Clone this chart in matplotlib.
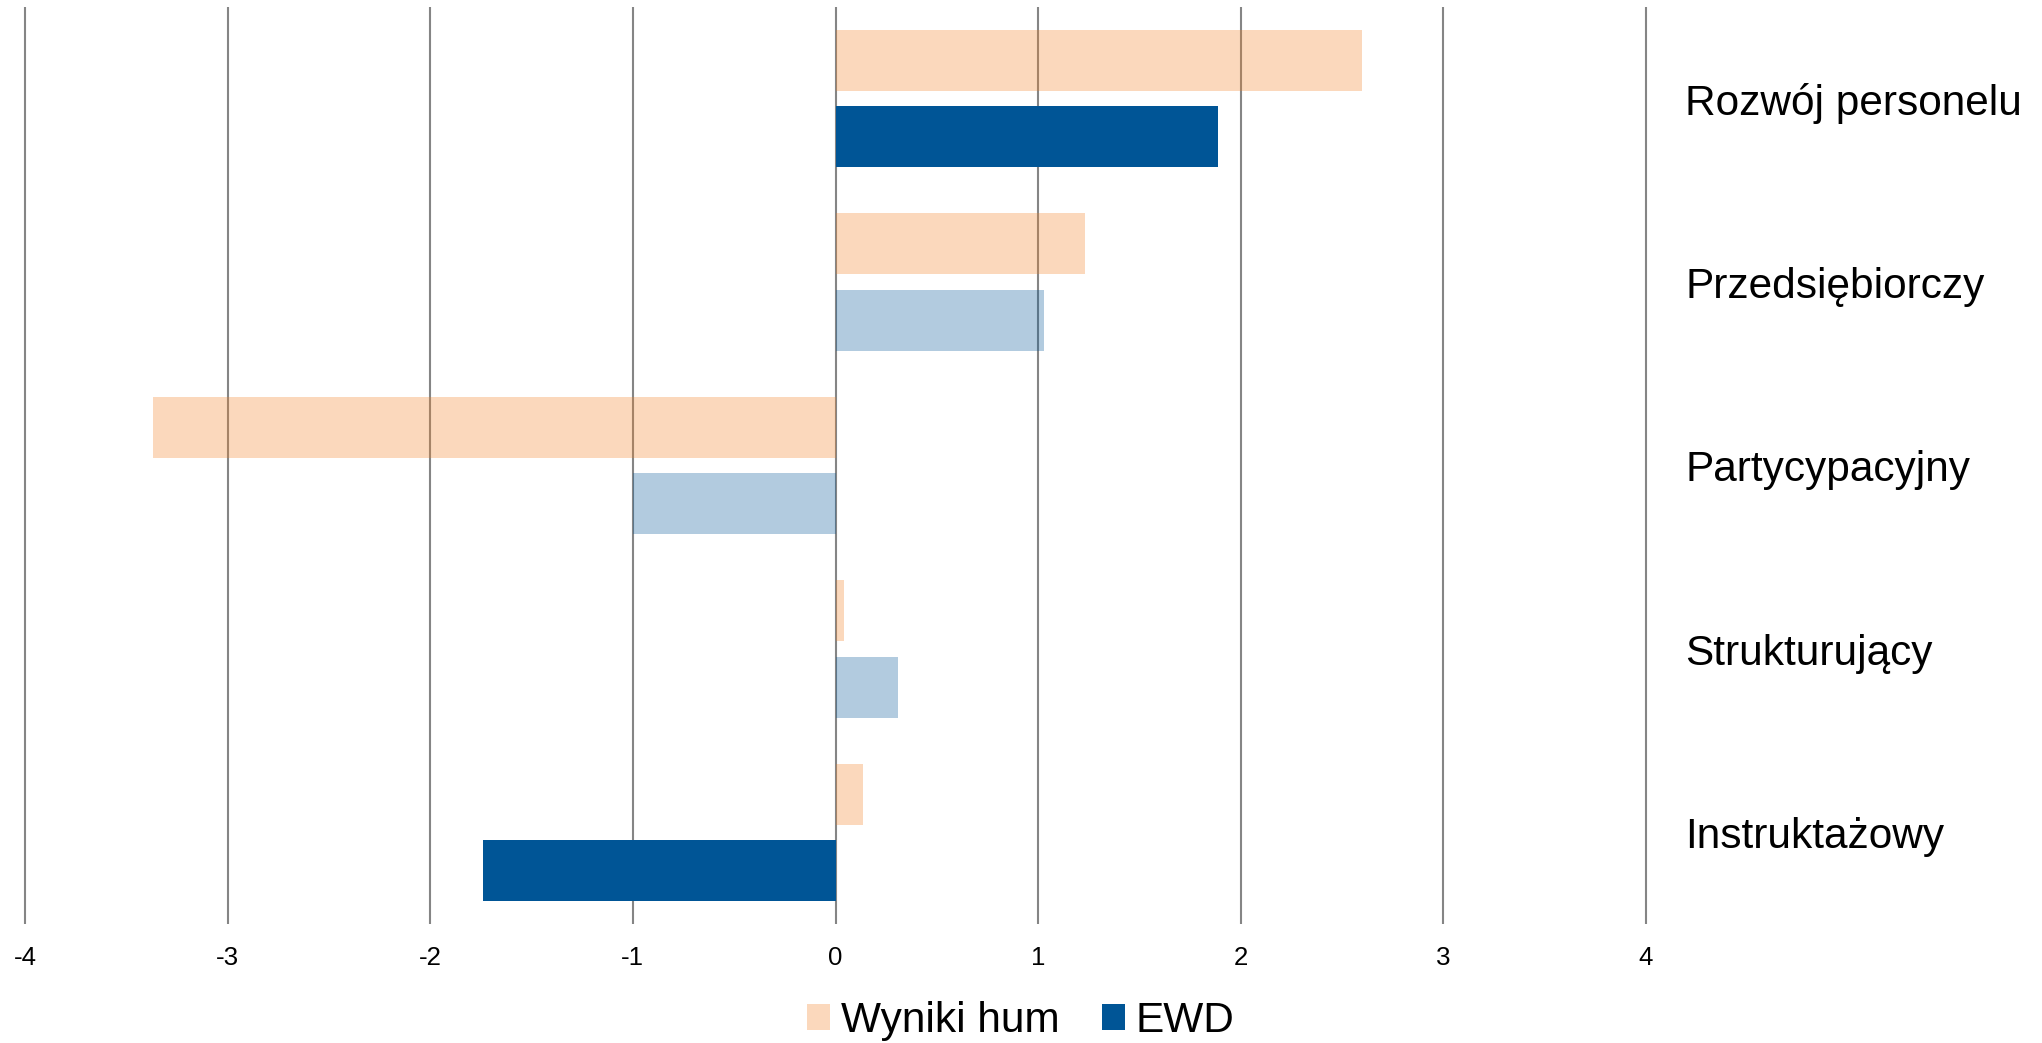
import numpy as np
import matplotlib
matplotlib.use("Agg")
import matplotlib.pyplot as plt
import matplotlib.transforms as mtransforms
from matplotlib.patches import Patch

plt.rcParams["font.family"] = ["Liberation Sans", "DejaVu Sans"]
plt.rcParams["axes.unicode_minus"] = False

# ---------- data ----------
categories = ["Rozwój personelu", "Przedsiębiorczy", "Partycypacyjny",
              "Strukturujący", "Instruktażowy"]
wyniki_hum = [2.60, 1.23, -3.37, 0.04, 0.135]
ewd        = [1.89, 1.03, -1.00, 0.31, -1.74]
ewd_signif = [True, False, False, False, True]   # dark vs faded bars
x_ticks    = [-4, -3, -2, -1, 0, 1, 2, 3, 4]

# ---------- style ----------
ORANGE = "#F28023"
BLUE   = "#005596"
GRID   = "#858585"

W, H = 2042, 1043
fig = plt.figure(figsize=(W / 100, H / 100), dpi=100)
# axes: x=-4 at px 25, x=4 at px 1646; top px 7, bottom px 924
ppu = (1646 - 25) / 8
xpad = 0.05
left_px = 25 - xpad * ppu
right_px = 1646 + xpad * ppu
ax = fig.add_axes([left_px / W, 1 - 924 / H, (right_px - left_px) / W, (924 - 7) / H])

y = np.arange(len(categories))
h = 0.332
off = 0.2085

ax.barh(y - off, wyniki_hum, height=h, color=ORANGE, alpha=0.3, zorder=2,
        linewidth=0)
for yi, v, sig in zip(y, ewd, ewd_signif):
    ax.barh(yi + off, v, height=h, color=BLUE, alpha=1.0 if sig else 0.3,
            zorder=3 if sig else 2, linewidth=0)

ax.set_xlim(-4 - xpad, 4 + xpad)
ax.set_ylim(4.5, -0.5)
ax.set_xticks(x_ticks)
ax.set_xticklabels([str(t) for t in x_ticks], fontsize=18.6)
ax.set_yticks([])
ax.tick_params(axis="x", length=0, pad=16)
ax.xaxis.grid(True, color=GRID, linewidth=1.5, zorder=1)
ax.set_axisbelow(True)
for s in ax.spines.values():
    s.set_visible(False)

# category labels: x in figure pixels, y in data units
trans = mtransforms.blended_transform_factory(fig.dpi_scale_trans, ax.transData)
for yi, name in zip(y, categories):
    ax.text(1685 / 100, yi + 0.027, name, transform=trans,
            fontsize=30.5, ha="left", va="center", clip_on=False)

handles = [Patch(facecolor=ORANGE, alpha=0.3, linewidth=0),
           Patch(facecolor=BLUE, linewidth=0)]
fig.legend(handles, ["Wyniki hum", "EWD"], loc="center",
           bbox_to_anchor=(0.5, 1 - 1021 / H), ncol=2, frameon=False,
           fontsize=30.5, handlelength=0.55, handleheight=0.55,
           handletextpad=0.25, columnspacing=1.0)

fig.savefig("out.png", dpi=100)
